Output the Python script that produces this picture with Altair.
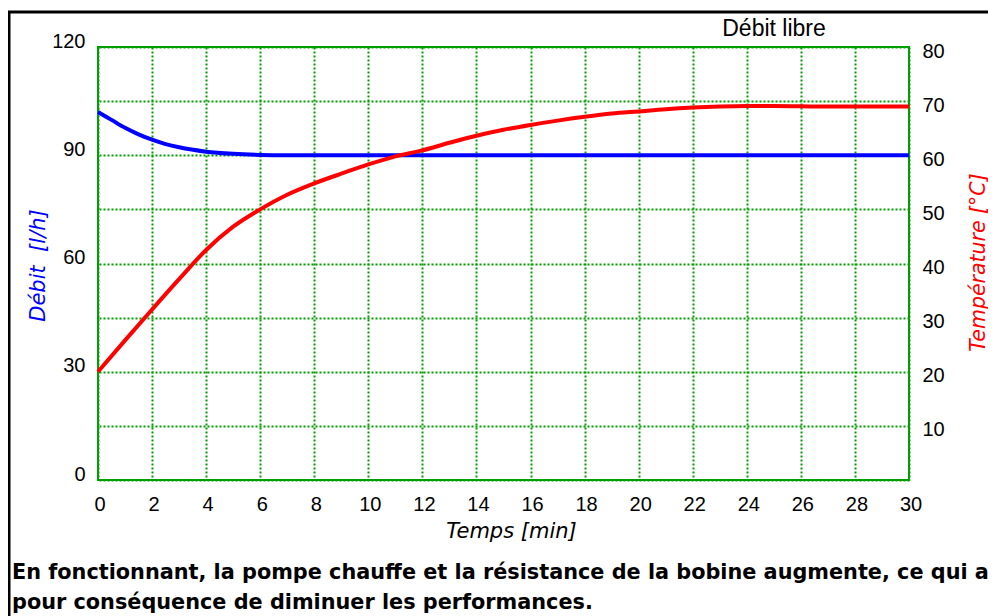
import altair as alt
import pandas as pd

# ---- data ----
time_debit = [0, 0.5, 1, 1.5, 2, 2.5, 3, 4, 5, 6, 7, 8, 10, 12, 15, 20, 25, 30]
debit = [102.0, 99.8, 97.6, 95.8, 94.3, 93.1, 92.2, 91.0, 90.4, 90.1, 90.0, 90.0,
         90.0, 90.0, 90.0, 90.0, 90.0, 90.0]

time_temp = list(range(0, 31))
temperature = [20.0, 25.8, 31.5, 37.1, 42.5, 46.8, 50.0, 52.7, 54.8, 56.6, 58.3,
               59.8, 60.9, 62.3, 63.6, 64.7, 65.6, 66.4, 67.1, 67.7, 68.1, 68.5,
               68.8, 69.0, 69.1, 69.1, 69.05, 69.0, 69.0, 69.0, 69.0]

x_ticks = list(range(0, 31, 2))
left_ticks = [0, 30, 60, 90, 120]
right_ticks = [0, 10, 20, 30, 40, 50, 60, 70, 80]

header = "Débit libre"
caption_1 = "En fonctionnant, la pompe chauffe et la résistance de la bobine augmente, ce qui a"
caption_2 = "pour conséquence de diminuer les performances."
title_x = "Temps [min]"
title_left = "Débit\u00a0\u00a0[l/h]"
title_right = "Température [°C]"

GREEN = "#009f00"
LABEL_FONT = "Liberation Sans"
TITLE_FONT = "DejaVu Sans"

df_debit = pd.DataFrame({"t": time_debit, "debit": debit})
df_temp = pd.DataFrame({"t": time_temp, "temp": temperature})
one = pd.DataFrame({"k": [0]})

x_enc = alt.X(
    "t:Q",
    scale=alt.Scale(domain=[0, 30], nice=False, zero=False),
    axis=alt.Axis(
        values=x_ticks, title=title_x, grid=True, gridColor=GREEN,
        gridDash=[2, 2], gridWidth=2, gridOpacity=1, ticks=False, tickSize=0,
        domain=False, labelFont=LABEL_FONT, labelFontSize=20, labelColor="black",
        labelPadding=24, labelBaseline="middle", labelOffset=1.5, labelFlush=False,
        labelOverlap=False, titleFont=TITLE_FONT, titleFontStyle="italic",
        titleFontWeight="normal", titleFontSize=21, titleColor="black",
        titleX=413, titleY=51, titleAlign="center", titleBaseline="middle",
    ),
)

blue = alt.Chart(df_debit).mark_line(
    color="#0000ff", strokeWidth=4, interpolate="monotone"
).encode(
    x=x_enc,
    y=alt.Y(
        "debit:Q",
        scale=alt.Scale(domain=[0, 120], nice=False),
        axis=alt.Axis(
            orient="left", values=left_ticks, title=title_left, grid=False,
            ticks=False, tickSize=0, domain=False, labelFont=LABEL_FONT,
            labelFontSize=20, labelColor="black", labelPadding=13,
            labelAlign="right", labelBaseline="alphabetic", labelFlush=False,
            labelOverlap=False, titleFont=TITLE_FONT, titleFontStyle="italic",
            titleFontWeight="normal", titleFontSize=21, titleColor="#0000ff",
            titleAngle=270, titleX=-60, titleY=218, titleAlign="center",
            titleBaseline="middle",
        ),
    ),
)

red = alt.Chart(df_temp).mark_line(
    color="#ff0000", strokeWidth=4, interpolate="monotone"
).encode(
    x=x_enc,
    y=alt.Y(
        "temp:Q",
        scale=alt.Scale(domain=[0, 80], nice=False),
        axis=alt.Axis(
            orient="right", values=right_ticks, title=title_right,
            grid=True, gridColor=GREEN, gridDash=[2, 2], gridWidth=2,
            gridOpacity=1, ticks=False, tickSize=0, domain=False,
            labelFont=LABEL_FONT, labelFontSize=20, labelColor="black",
            labelPadding=13, labelAlign="left", labelBaseline="middle",
            labelOffset=4, labelFlush=False, labelOverlap=False,
            labelExpr="datum.value == 0 ? '' : datum.label",
            titleFont=TITLE_FONT, titleFontStyle="italic",
            titleFontWeight="normal", titleFontSize=20.5, titleColor="#ff0000",
            titleAngle=270, titleX=69, titleY=215, titleAlign="center",
            titleBaseline="middle",
        ),
    ),
)

header_text = alt.Chart(one).mark_text(
    font=LABEL_FONT, fontSize=23, color="black", align="center", baseline="middle"
).encode(x=alt.value(676), y=alt.value(-18), text=alt.value(header))

cap1 = alt.Chart(one).mark_text(
    font=TITLE_FONT, fontSize=20.8, fontWeight="bold", color="black",
    align="left", baseline="middle"
).encode(x=alt.value(-86), y=alt.value(526), text=alt.value(caption_1))

cap2 = alt.Chart(one).mark_text(
    font=TITLE_FONT, fontSize=20.8, fontWeight="bold", color="black",
    align="left", baseline="middle"
).encode(x=alt.value(-86), y=alt.value(556), text=alt.value(caption_2))

frame_top = alt.Chart(one).mark_rule(color="black", strokeWidth=3).encode(
    x=alt.value(-90), x2=alt.value(900), y=alt.value(-35)
)
frame_left = alt.Chart(one).mark_rule(color="black", strokeWidth=3).encode(
    x=alt.value(-89), y=alt.value(-36), y2=alt.value(620)
)

chart = alt.layer(
    blue, red, header_text, cap1, cap2, frame_top, frame_left
).resolve_scale(y="independent").properties(
    width=811, height=433,
    autosize=alt.AutoSizeParams(type="none"),
    padding={"left": 90, "top": 39, "right": 79, "bottom": 140},
).configure_view(stroke=GREEN, strokeWidth=2)

chart.save("out.html", embed_options={"renderer": "svg", "actions": False})
